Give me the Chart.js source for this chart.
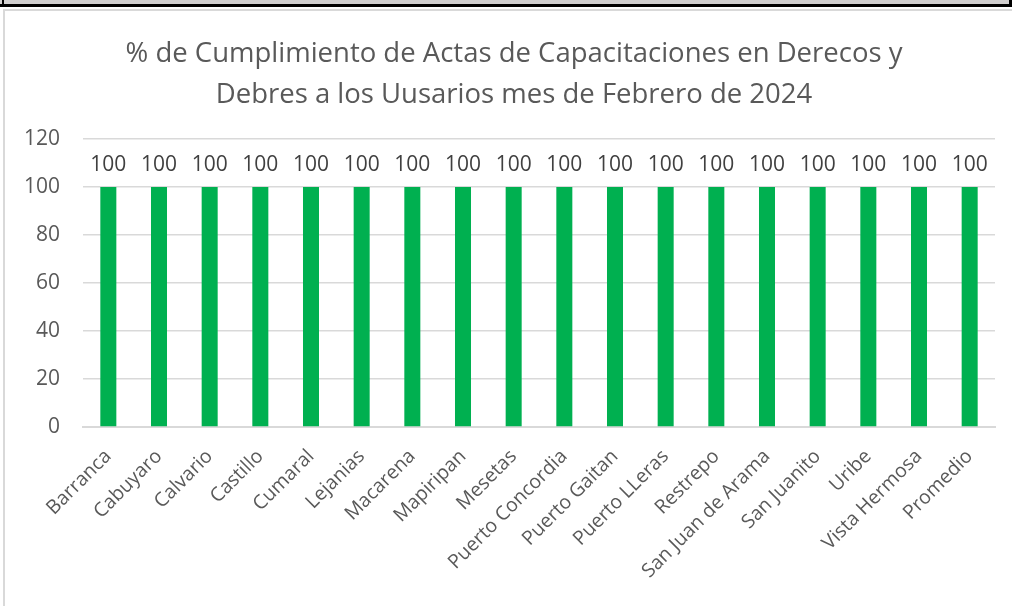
<!DOCTYPE html>
<html>
<head>
<meta charset="utf-8">
<script src="https://cdn.jsdelivr.net/npm/chart.js@4"></script>
<style>
  html, body { margin: 0; padding: 0; background: #fff; }
  #wrap { position: relative; width: 1012px; height: 606px; overflow: hidden; }
  #topband { position: absolute; left: 0; top: 0; width: 1012px; height: 4px; background: #d0cece; border-bottom: 3px solid #000; }
  #leftedge { position: absolute; left: 2px; top: 0; width: 2px; height: 5px; background: #000; }
  #rightedge { position: absolute; left: 1009px; top: 0; width: 3px; height: 7px; background: #000; }
  #frame { position: absolute; left: 3px; top: 9px; width: 1020px; height: 620px; border-left: 2px solid #d9d9d9; border-top: 2px solid #d9d9d9; }
  canvas { position: absolute; left: 0; top: 0; }
</style>
</head>
<body>
<div id="wrap">
  <div id="topband"></div>
  <div id="leftedge"></div>
  <div id="rightedge"></div>
  <div id="frame"></div>
  <canvas id="barChart" width="1012" height="606"></canvas>
</div>
<script>
var municipios = ['Barranca','Cabuyaro','Calvario','Castillo','Cumaral','Lejanias','Macarena','Mapiripan','Mesetas','Puerto Concordia','Puerto Gaitan','Puerto LLeras','Restrepo','San Juan de Arama','San Juanito','Uribe','Vista Hermosa','Promedio'];
var cumplimiento = [100,100,100,100,100,100,100,100,100,100,100,100,100,100,100,100,100,100];
var tituloLineas = ['% de Cumplimiento de Actas de Capacitaciones en Derecos y', 'Debres a los Uusarios mes de Febrero de 2024'];

var fontName = '"Open Sans", "Noto Sans", sans-serif';

// simple value labels above each bar
var valueLabels = {
    id: 'valueLabels',
    afterLayout: function(chart) {
        // title is centred a bit right of the canvas middle in the original
        if (chart.titleBlock) {
            chart.titleBlock.left = 33;
        }
    },
    afterDatasetsDraw: function(chart) {
        var ctx = chart.ctx;
        var meta = chart.getDatasetMeta(0);
        ctx.save();
        ctx.font = '21px ' + fontName;
        ctx.fillStyle = '#404040';
        ctx.textAlign = 'center';
        ctx.textBaseline = 'middle';
        meta.data.forEach(function(bar, i) {
            ctx.fillText(chart.data.datasets[0].data[i], bar.x, bar.y - 22);
        });
        ctx.restore();
    }
};

var ctx = document.getElementById('barChart').getContext('2d');
var barChart = new Chart(ctx, {
    type: 'bar',
    data: {
        labels: municipios,
        datasets: [{
            label: 'Cumplimiento',
            data: cumplimiento,
            backgroundColor: '#00b050',
            borderWidth: 0,
            barPercentage: 0.316,
            categoryPercentage: 1
        }]
    },
    options: {
        responsive: false,
        animation: false,
        layout: { padding: { left: 0, right: 17, top: 0, bottom: 0 } },
        plugins: {
            legend: { display: false },
            tooltip: { enabled: false },
            title: {
                display: true,
                text: tituloLineas,
                color: '#595959',
                font: { family: fontName, size: 27.5, weight: 'normal', lineHeight: 1.49 },
                padding: { top: 34, bottom: 23 }
            }
        },
        scales: {
            x: {
                grid: { display: false, drawTicks: false },
                border: { display: true, color: '#d9d9d9', width: 2 },
                ticks: {
                    color: '#595959',
                    font: { family: fontName, size: 19.5 },
                    minRotation: 45,
                    maxRotation: 45,
                    autoSkip: false,
                    padding: 18
                },
                afterFit: function(scale) { scale.height = 179; }
            },
            y: {
                min: 0,
                max: 120,
                ticks: {
                    stepSize: 20,
                    color: '#595959',
                    font: { family: fontName, size: 21 },
                    padding: 23
                },
                grid: { color: '#d9d9d9', lineWidth: 1.5, drawTicks: false },
                border: { display: false },
                afterFit: function(scale) { scale.width = 83; }
            }
        }
    },
    plugins: [valueLabels]
});
</script>
</body>
</html>
